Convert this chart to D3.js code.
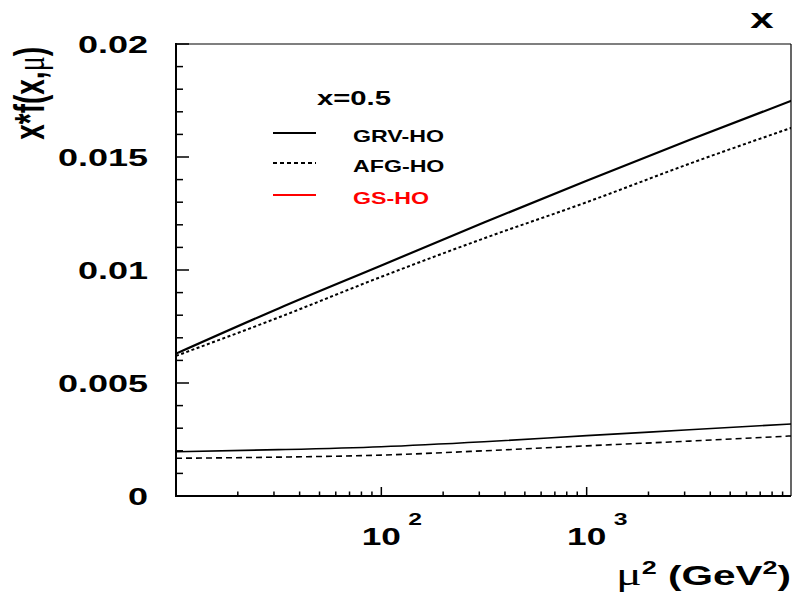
<!DOCTYPE html>
<html>
<head>
<meta charset="utf-8">
<script src="https://cdn.jsdelivr.net/npm/d3@7"></script>
<style>
  body { margin: 0; background: #fff; }
  svg { display: block; }
  text { font-family: "Liberation Sans", Arial, sans-serif; font-weight: bold; }
</style>
</head>
<body>
<svg id="chart" width="792" height="597"></svg>
<script>
// mu^2 sample points (GeV^2) and x*f(x,mu) at x=0.5
const muSq = [10, 31.6, 100, 316, 1000, 3162, 10000];
const grvHigh = [0.0063, 0.0083, 0.0102, 0.0121, 0.01395, 0.01575, 0.0175];
const afgHigh = [0.0062, 0.0079, 0.0097, 0.0114, 0.0130, 0.0147, 0.0163];
const grvLow = [0.00196, 0.00205, 0.00218, 0.0024, 0.00267, 0.00293, 0.00319];
const afgLow = [0.00167, 0.00172, 0.00181, 0.0020, 0.00222, 0.00243, 0.00266];
const yTicks = [0, 0.005, 0.01, 0.015, 0.02];
const yTickLabels = ["0", "0.005", "0.01", "0.015", "0.02"];
const xTicks = [100, 1000];
const xTickExps = ["2", "3"];
const legendNames = ["GRV-HO", "AFG-HO", "GS-HO"];

const svg = d3.select("#chart");
const pLeft = 176, pRight = 791, pTop = 44, pBottom = 496;
const sx = 1.5; // the picture is stretched sideways

const x = d3.scaleLog().domain([10, 10000]).range([pLeft, 792]);
const y = d3.scaleLinear().domain([0, 0.02]).range([pBottom, pTop]);

// stretched text helper
function label(px, py, str, size, anchor, color, stretch) {
  return svg.append("text")
    .attr("transform", `translate(${px},${py}) scale(${stretch || sx},1)`)
    .attr("font-size", size)
    .attr("text-anchor", anchor || "start")
    .attr("fill", color || "#000")
    .text(str);
}

// y ticks (inside, on the left axis)
const yMinor = d3.range(0, 0.0201, 0.001);
svg.append("g").selectAll("line").data(yMinor).join("line")
  .attr("x1", pLeft)
  .attr("x2", (d, i) => pLeft + (i % 5 === 0 ? 13 : 7))
  .attr("y1", (d) => y(d))
  .attr("y2", (d) => y(d))
  .attr("stroke", "#000")
  .attr("stroke-width", 1.5);

// x ticks (inside, on the bottom axis)
const xMinor = [];
[10, 100, 1000].forEach((dec) => {
  for (let k = 2; k <= 9; k++) xMinor.push(dec * k);
});
svg.append("g").selectAll("line").data(xMinor.concat(xTicks)).join("line")
  .attr("x1", (d) => x(d))
  .attr("x2", (d) => x(d))
  .attr("y1", pBottom)
  .attr("y2", (d) => pBottom - (xTicks.includes(d) ? 9 : 4.5))
  .attr("stroke", "#000")
  .attr("stroke-width", 1.5);

// frame
svg.append("line").attr("x1", pLeft).attr("x2", pRight).attr("y1", pTop).attr("y2", pTop)
  .attr("stroke", "#000").attr("stroke-width", 1.2);
svg.append("line").attr("x1", pRight).attr("x2", pRight).attr("y1", pTop).attr("y2", pBottom)
  .attr("stroke", "#000").attr("stroke-width", 1.2);
svg.append("line").attr("x1", pLeft).attr("x2", pLeft).attr("y1", pTop - 1).attr("y2", pBottom + 1)
  .attr("stroke", "#000").attr("stroke-width", 2);
svg.append("line").attr("x1", pLeft - 1).attr("x2", pRight).attr("y1", pBottom).attr("y2", pBottom)
  .attr("stroke", "#000").attr("stroke-width", 2);

// curves
svg.append("clipPath").attr("id", "clip").append("rect")
  .attr("x", pLeft).attr("y", pTop).attr("width", pRight - pLeft).attr("height", pBottom - pTop);

const line = d3.line()
  .x((d) => x(d[0]))
  .y((d) => y(d[1]))
  .curve(d3.curveMonotoneX);

const curves = [
  { v: grvHigh, dash: null, w: 2.2 },
  { v: afgHigh, dash: "3,2.5", w: 2 },
  { v: grvLow, dash: null, w: 1.6 },
  { v: afgLow, dash: "6,4", w: 1.6 }
];
svg.append("g").attr("clip-path", "url(#clip)")
  .selectAll("path").data(curves).join("path")
  .attr("d", (c) => line(muSq.map((m, i) => [m, c.v[i]])))
  .attr("fill", "none")
  .attr("stroke", "#000")
  .attr("stroke-width", (c) => c.w)
  .attr("stroke-dasharray", (c) => c.dash);

// y tick labels
yTicks.forEach((t, i) => label(148, y(t) + 8.5, yTickLabels[i], 24, "end"));

// x tick labels: 10 with superscript
xTicks.forEach((t, i) => {
  label(x(t), 545, "10", 23.5, "middle");
  label(x(t) + 27, 525, xTickExps[i], 16.5, "start");
});

// axis titles
const yTitle = svg.append("text")
  .attr("transform", `translate(44,47) scale(${sx},1) rotate(-90)`)
  .attr("font-size", 28)
  .attr("text-anchor", "end");
yTitle.append("tspan").text("x*f(x,");
yTitle.append("tspan").attr("font-family", "Liberation Serif").attr("font-weight", "normal").text("μ");
yTitle.append("tspan").text(")");

const xTitle = svg.append("text")
  .attr("transform", "translate(791,585) scale(1.5,1)")
  .attr("font-size", 27)
  .attr("text-anchor", "end");
xTitle.append("tspan").attr("font-family", "Liberation Serif").attr("font-weight", "normal").attr("font-size", 32).text("μ");
xTitle.append("tspan").attr("font-size", 18).attr("dy", -11).text("2");
xTitle.append("tspan").attr("dy", 11).text(" (GeV");
xTitle.append("tspan").attr("font-size", 18).attr("dy", -11).text("2");
xTitle.append("tspan").attr("dy", 11).text(")");

label(762, 28, "x", 28, "middle");

// legend
label(317, 105, "x=0.5", 19.5, "start");
const legend = [
  { name: legendNames[0], color: "#000", dash: null, y: 133 },
  { name: legendNames[1], color: "#000", dash: "4,3", y: 163 },
  { name: legendNames[2], color: "#ff0000", dash: null, y: 195 }
];
legend.forEach((l) => {
  svg.append("line")
    .attr("x1", 273).attr("x2", 316).attr("y1", l.y).attr("y2", l.y)
    .attr("stroke", l.color).attr("stroke-width", 2)
    .attr("stroke-dasharray", l.dash);
  label(353, l.y + 8.5, l.name, 16, "start", l.color, 1.45);
});
</script>
</body>
</html>
